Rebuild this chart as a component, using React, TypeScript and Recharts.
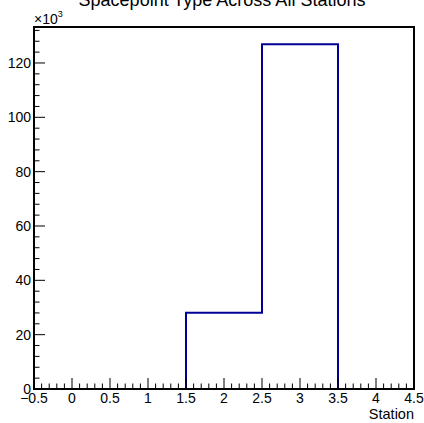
import { Line, LineChart, ReferenceArea, XAxis, YAxis } from "recharts"

const stations = [0, 1, 2, 3, 4]
const counts = [0, 0, 28100, 126900, 0]

const xMajor = [-0.5, 0, 0.5, 1, 1.5, 2, 2.5, 3, 3.5, 4, 4.5]
const xLabels = ["\u22120.5", "0", "0.5", "1", "1.5", "2", "2.5", "3", "3.5", "4", "4.5"]
const yMajor = [0, 20000, 40000, 60000, 80000, 100000, 120000]
const yLabels = ["0", "20", "40", "60", "80", "100", "120"]

const font = "Liberation Sans, Arial, Helvetica, sans-serif"
const lineColor = "#000099"

// histogram outline: one point at each bin's low edge, plus the last upper edge
const steps = stations.map((s, i) => ({ edge: s - 0.5, count: counts[i] }))
steps.push({ edge: stations[stations.length - 1] + 0.5, count: counts[counts.length - 1] })

const yMax = Math.max(...counts) * 1.05

// minor ticks: 5 subdivisions between labelled ticks
const xTicks = Array.from({ length: 51 }, (_, i) => Math.round((-0.5 + i * 0.1) * 10) / 10)
const yTicks = Array.from({ length: 34 }, (_, i) => i * 4000)

const XTick = (props: any) => {
  const { x, y, payload } = props
  const idx = xMajor.findIndex((m) => Math.abs(m - payload.value) < 1e-6)
  const len = idx >= 0 ? 11 : 5.5
  return (
    <g>
      <line x1={x} x2={x} y1={y} y2={y - len} stroke="#000" strokeWidth={1} />
      {idx >= 0 && (
        <text x={x} y={y + 14} textAnchor="middle" fontSize={14} fontFamily={font} fill="#000">
          {xLabels[idx]}
        </text>
      )}
    </g>
  )
}

const YTick = (props: any) => {
  const { x, y, payload } = props
  const idx = yMajor.indexOf(payload.value)
  const len = idx >= 0 ? 11 : 5.5
  return (
    <g>
      <line x1={x} x2={x + len} y1={y} y2={y} stroke="#000" strokeWidth={1} />
      {idx >= 0 && (
        <text x={x - 3} y={y + 5} textAnchor="end" fontSize={14} fontFamily={font} fill="#000">
          {yLabels[idx]}
        </text>
      )}
    </g>
  )
}

export default function App() {
  return (
    <div style={{ position: "absolute", left: 0, top: 0, width: 424, height: 423, background: "#fff" }}>
      <LineChart
        width={424}
        height={423}
        data={steps}
        margin={{ top: 27, right: 10, bottom: 0, left: 0 }}
      >
        <XAxis
          dataKey="edge"
          type="number"
          domain={[-0.5, 4.5]}
          ticks={xTicks}
          interval={0}
          height={34}
          tickSize={0}
          tickMargin={0}
          tickLine={false}
          axisLine={{ stroke: "#000", strokeWidth: 2 }}
          tick={XTick}
        />
        <YAxis
          type="number"
          domain={[0, yMax]}
          ticks={yTicks}
          interval={0}
          width={34}
          tickSize={0}
          tickMargin={0}
          tickLine={false}
          axisLine={{ stroke: "#000", strokeWidth: 2 }}
          tick={YTick}
        />
        <Line
          dataKey="count"
          type="stepAfter"
          stroke={lineColor}
          strokeWidth={2}
          dot={false}
          isAnimationActive={false}
        />
        <ReferenceArea
          x1={-0.5}
          x2={4.5}
          y1={0}
          y2={yMax}
          fill="none"
          fillOpacity={0}
          stroke="#000"
          strokeWidth={2}
        />
      </LineChart>
      <svg
        width={424}
        height={423}
        style={{ position: "absolute", left: 0, top: 0, pointerEvents: "none" }}
      >
        <text x={222} y={6} textAnchor="middle" fontSize={18} fontFamily={font} fill="#000">
          Spacepoint Type Across All Stations
        </text>
        <text x={34} y={24} fontSize={14} fontFamily={font} fill="#000">
          {"\u00d710"}
          <tspan dy={-7} fontSize={9}>
            3
          </tspan>
        </text>
        <text x={414} y={419} textAnchor="end" fontSize={14.5} fontFamily={font} fill="#000">
          Station
        </text>
      </svg>
    </div>
  )
}
